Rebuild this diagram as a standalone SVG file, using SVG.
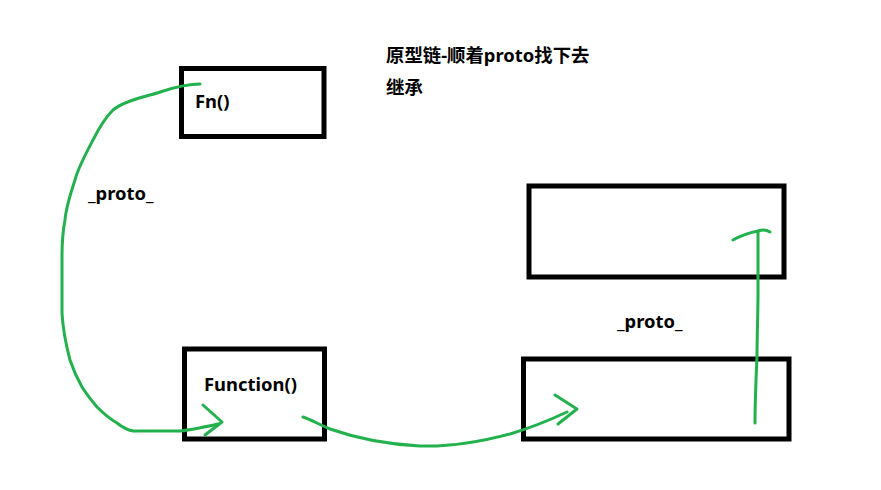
<svg xmlns="http://www.w3.org/2000/svg" width="881" height="490" viewBox="0 0 881 490">
<style>
.box{fill:none;stroke:#000;stroke-width:5}
.t{font-family:"Noto Sans","Noto Sans CJK SC",sans-serif;font-weight:bold;font-size:18.4px;fill:#000}
.c{fill:none;stroke:#22b14c;stroke-width:3;stroke-linecap:round;stroke-linejoin:round}
</style>
<rect width="881" height="490" fill="#fff"/>
<g id="title">
<text class="t" x="386" y="62">原型链-顺着proto找下去</text>
<text class="t" x="386" y="94">继承</text>
</g>
<g id="fn">
<rect class="box" x="181.5" y="68.5" width="142.5" height="68"/>
<text class="t" x="195" y="108">Fn()</text>
</g>
<g id="function">
<rect class="box" x="184.5" y="349" width="140" height="90"/>
<text class="t" x="204" y="391">Function()</text>
</g>
<g id="top-right">
<rect class="box" x="529" y="186" width="255" height="91"/>
</g>
<g id="bottom-right">
<rect class="box" x="523.5" y="359" width="265.5" height="80"/>
</g>
<g id="labels">
<text class="t" x="88" y="200">_proto_</text>
<text class="t" x="617" y="328">_proto_</text>
</g>
<g id="connectors">
<path class="c" d="M200,84 C180,84 165,91 150,95 C130,100 118,106 113,110 C105,118 98,130 93,140 C85,155 78,168 75,180 C70,195 66,208 65,220 C62,235 62,245 62,257 L62,313 C63,330 66,345 70,360 C74,372 78,380 82,387 C87,395 92,401 97,407 C103,413 110,419 117,423 C122,427 128,430 133,431 L180,431 C190,430 200,428 218,424"/>
<path class="c" d="M203,405 L222,422 L205,435"/>
<path class="c" d="M303,417 C312,420 318,424 330,429 C350,436 380,444 420,446 C450,447 480,442 510,434 C530,428 550,420 567,412"/>
<path class="c" d="M555,395 L577,409 L558,424"/>
<path class="c" d="M755,423 C755,400 756,380 757,357 C757,335 758,315 758,293 C758,270 758,250 758,232"/>
<path class="c" d="M733,240 C740,236 748,233 758,231 C763,229 767,230 770,232"/>
</g>
</svg>
